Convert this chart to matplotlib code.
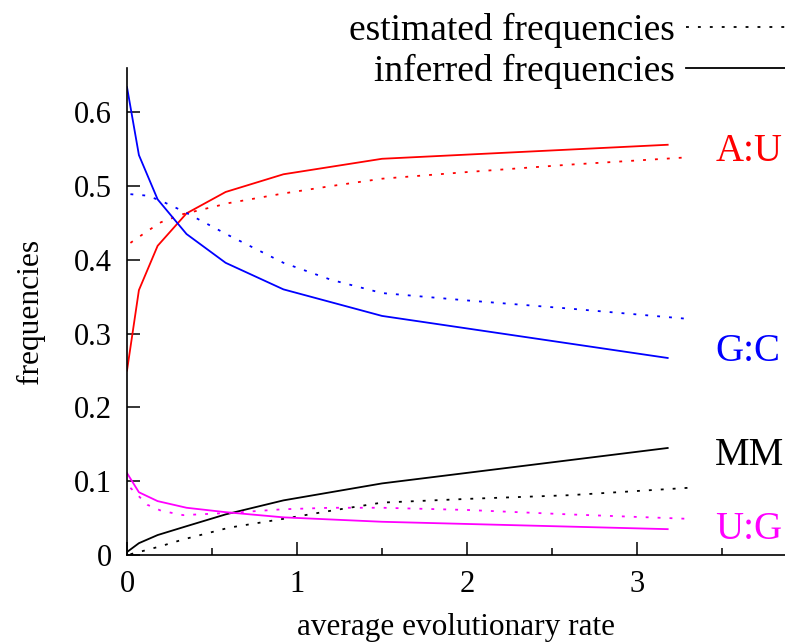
import matplotlib
matplotlib.use("Agg")
import matplotlib.pyplot as plt
from matplotlib.lines import Line2D
from matplotlib.ticker import MultipleLocator

plt.rcParams["font.family"] = ["Liberation Serif", "DejaVu Serif"]

# inferred frequencies (solid lines)
x_inferred = [0, 0.07, 0.18, 0.35, 0.58, 0.92, 1.5, 3.18]
au_inferred = [0.250, 0.359, 0.419, 0.463, 0.492, 0.516, 0.537, 0.556]
gc_inferred = [0.634, 0.542, 0.482, 0.435, 0.396, 0.360, 0.324, 0.267]
ug_inferred = [0.111, 0.085, 0.073, 0.064, 0.058, 0.051, 0.045, 0.035]
mm_inferred = [0.004, 0.016, 0.027, 0.039, 0.055, 0.074, 0.097, 0.145]

# estimated frequencies (dotted lines)
x_estimated = [0.02, 0.12, 0.2, 0.33, 0.6, 0.92, 1.2, 1.5, 2.0, 2.6, 3.3]
au_estimated = [0.423, 0.439, 0.451, 0.462, 0.477, 0.490, 0.500, 0.510, 0.519, 0.529, 0.539]
gc_estimated = [0.489, 0.487, 0.480, 0.466, 0.433, 0.396, 0.373, 0.355, 0.345, 0.334, 0.320]
ug_estimated = [0.091, 0.068, 0.060, 0.054, 0.057, 0.062, 0.064, 0.064, 0.061, 0.055, 0.049]
mm_estimated = [0.001, 0.007, 0.012, 0.021, 0.037, 0.049, 0.060, 0.071, 0.076, 0.081, 0.091]

pair_names = ["A:U", "G:C", "MM", "U:G"]
pair_colors = ["#ff0000", "#0000ff", "#000000", "#ff00ff"]
label_y = [0.547, 0.276, 0.135, 0.035]

y_ticks = [0, 0.1, 0.2, 0.3, 0.4, 0.5, 0.6]
y_ticklabels = ["0", "0.1", "0.2", "0.3", "0.4", "0.5", "0.6"]
x_ticks = [0, 1, 2, 3]

DOTTED = (0, (1.6, 5.0))
LW = 1.3

fig = plt.figure(figsize=(7.85, 6.43), dpi=100)
ax = fig.add_axes([0.1618, 0.1369, 0.8382, 0.7573])

inferred = [au_inferred, gc_inferred, mm_inferred, ug_inferred]
estimated = [au_estimated, gc_estimated, mm_estimated, ug_estimated]
for name, color, inf, est, ly in zip(pair_names, pair_colors, inferred, estimated, label_y):
    ax.plot(x_inferred, inf, color=color, lw=LW, solid_joinstyle="miter")
    ax.plot(x_estimated, est, color=color, lw=LW, linestyle=DOTTED)
    ax.text(3.46, ly, name, color=color, fontsize=28, va="center", ha="left")

ax.set_xlim(0, 3.87)
ax.set_ylim(0, 0.66)
ax.set_xticks(x_ticks)
ax.set_xticklabels([str(t) for t in x_ticks])
ax.xaxis.set_minor_locator(MultipleLocator(0.5))
ax.set_yticks(y_ticks)
ax.set_yticklabels(y_ticklabels)

ax.spines["top"].set_visible(False)
ax.spines["right"].set_visible(False)
for s in ("left", "bottom"):
    ax.spines[s].set_linewidth(1.2)

ax.tick_params(which="major", direction="in", length=9.4, width=1.1,
               labelsize=22, pad=11)
ax.tick_params(which="minor", direction="in", length=5, width=1.1)
ax.tick_params(axis="y", which="minor", length=0)

ax.set_xlabel("average evolutionary rate", fontsize=22.5, labelpad=10)
ax.set_ylabel("frequencies", fontsize=22.7, labelpad=21)

# legend: two single-entry legends so the texts line up on the right
est_handle = Line2D([], [], color="black", lw=LW, linestyle=DOTTED)
inf_handle = Line2D([], [], color="black", lw=LW)
common = dict(frameon=False, markerfirst=False, fontsize=27, handlelength=2.64,
              handletextpad=0.29, borderpad=0, borderaxespad=0, loc="center right",
              bbox_transform=fig.transFigure)
leg1 = ax.legend([est_handle], ["estimated frequencies"],
                 bbox_to_anchor=(1.0, 0.953), **common)
ax.add_artist(leg1)
ax.legend([inf_handle], ["inferred frequencies"],
          bbox_to_anchor=(1.0, 0.889), **common)

fig.savefig("out.png", dpi=100)
